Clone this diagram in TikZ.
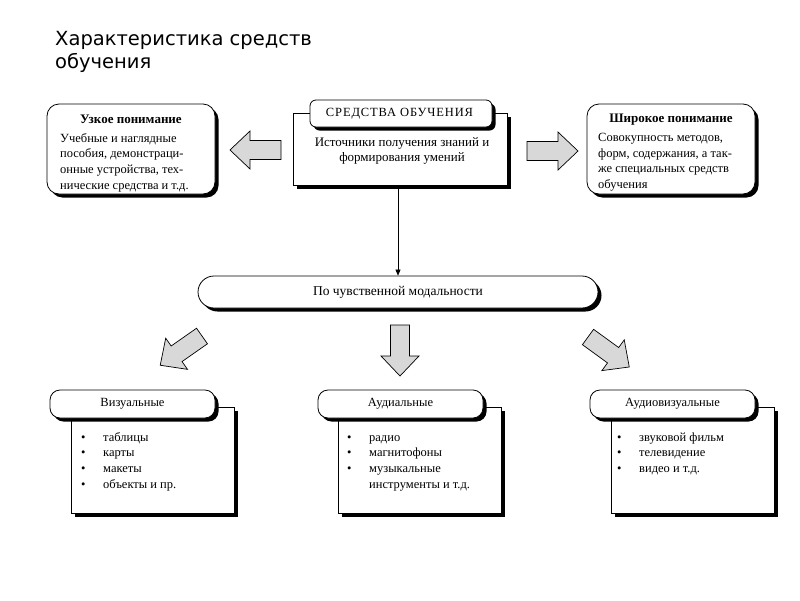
\documentclass[tikz,border=0pt]{standalone}
\usepackage{fontspec}
\setmainfont{Liberation Serif}
\newfontfamily\headfont{DejaVu Sans}
\usetikzlibrary{positioning,arrows.meta,shadows}
\definecolor{arrowgrey}{RGB}{216,216,216}
\newcommand{\bl}{\makebox[22pt][l]{\strut•}}
\newcommand{\blockarrow}[3]{% tail x, tail y, angle
  \draw[blkar,shift={(#1,#2)},rotate=#3] (0,-9.5) -- (31,-9.5) -- (31,-19) -- (51,0)
    -- (31,19) -- (31,9.5) -- (0,9.5) -- cycle;}
\tikzset{
  shd/.style    ={drop shadow={shadow xshift=3.5pt,shadow yshift=-3.5pt,fill=black,opacity=1}},
  sidebox/.style={draw, fill=white, line width=0.8pt, rounded corners=12pt, shd,
                  minimum width=168pt, minimum height=90pt},
  mainbox/.style={draw, fill=white, line width=0.8pt, shd, minimum width=214pt, minimum height=72pt},
  tabbox/.style ={draw, fill=white, line width=0.8pt, rounded corners=10pt, shd,
                  minimum width=165pt, minimum height=28pt, font=\fontsize{12.5}{14}\selectfont},
  listbox/.style={draw, fill=white, line width=0.8pt, shd, minimum width=163pt, minimum height=106pt},
  txt/.style    ={font=\fontsize{12.5}{15.7}\selectfont, inner sep=0pt},
  blkar/.style  ={draw, fill=arrowgrey, line width=0.7pt},
  ln/.style     ={-{Triangle[length=6pt,width=5pt]}, line width=0.6pt},
}
\begin{document}
\begin{tikzpicture}[x=1pt,y=-1pt]
\fill[white] (0,0) rectangle (800,600);
\useasboundingbox (0,0) rectangle (800,600);
% title
\node[anchor=north west, align=left, inner sep=0pt, font=\headfont\fontsize{19.5}{23}\selectfont]
  (title) at (55,31) {Характеристика средств\\обучения};

% top row
\node[mainbox] (means) at (400,149) {};
\node[draw, fill=white, line width=0.8pt, rounded corners=6pt, shd, minimum width=182pt,
  minimum height=27pt, font=\fontsize{12.5}{14}\selectfont\addfontfeatures{LetterSpace=7}]
  (meanstab) at (401,113.5) {\kern-3pt СРЕДСТВА ОБУЧЕНИЯ};
\node[txt, font=\fontsize{13}{15.5}\selectfont, align=center] (meanstx) at (402,151)
  {Источники получения знаний и\\формирования умений};

\node[sidebox] (narrow) at (131,149) {};
\node[txt, font=\fontsize{13}{14}\selectfont\bfseries] (narrowhd) at (131,119) {Узкое понимание};
\node[txt, anchor=north west, align=left] (narrowtx) at (60,133)
  {Учебные и наглядные\\пособия, демонстраци-\\онные устройства, тех-\\нические средства и т.д.};

\node[sidebox] (broad) at (671,149) {};
\node[txt, font=\fontsize{13}{14}\selectfont\bfseries] (broadhd) at (671,120) {Широкое понимание};
\node[txt, anchor=north west, align=left] (broadtx) at (598,133)
  {Совокупность методов,\\форм, содержания, а так-\\же специальных средств\\обучения};

\blockarrow{281}{150}{180}
\blockarrow{527}{151}{0}

% middle
\node[draw, fill=white, line width=0.8pt, rounded corners=16pt, shd, minimum width=400pt,
  minimum height=32pt, font=\fontsize{13.5}{14}\selectfont] (modal) at (398,292) {По чувственной модальности};
\draw[ln] (means.south -| modal.north) -- (modal.north);

\blockarrow{202}{336}{215}
\blockarrow{400}{325}{-90}
\blockarrow{588}{337}{-36}

% bottom row
\node[listbox] (visbox) at (153,460) {};
\node[tabbox] (vistab) at (132.5,404) {Визуальные};
\node[txt, anchor=north west, align=left] (vislist) at (81,430)
  {\bl таблицы\\\bl карты\\\bl макеты\\\bl объекты и пр.};

\node[listbox] (audbox) at (420,460) {};
\node[tabbox] (audtab) at (400.5,404) {Аудиальные};
\node[txt, anchor=north west, align=left] (audlist) at (347,430)
  {\bl радио\\\bl магнитофоны\\\bl музыкальные\\\hspace*{22pt}инструменты и т.д.};

\node[listbox] (avbox) at (692.5,460) {};
\node[tabbox] (avtab) at (672.5,404) {Аудиовизуальные};
\node[txt, anchor=north west, align=left] (avlist) at (617,430)
  {\bl звуковой фильм\\\bl телевидение\\\bl видео и т.д.};
\end{tikzpicture}
\end{document}
